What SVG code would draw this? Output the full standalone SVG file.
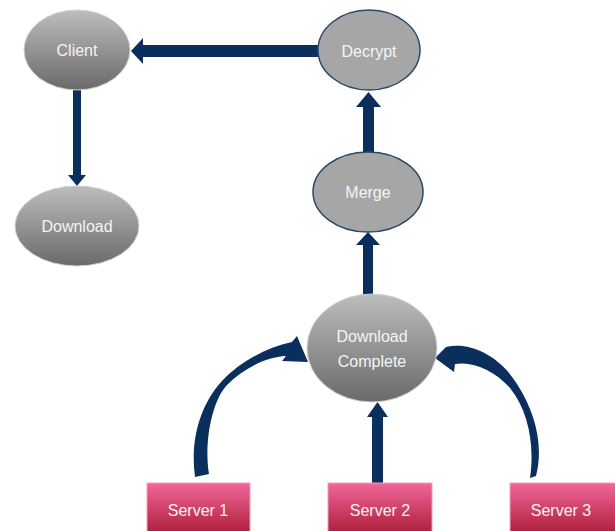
<svg xmlns="http://www.w3.org/2000/svg" width="615" height="531" viewBox="0 0 615 531">
  <defs>
    <linearGradient id="greyGrad" x1="0" y1="0" x2="0" y2="1">
      <stop offset="0" stop-color="#bdbdbd"/>
      <stop offset="1" stop-color="#6a6a6a"/>
    </linearGradient>
    <linearGradient id="pinkGrad" x1="0" y1="0" x2="0" y2="1">
      <stop offset="0" stop-color="#f0679a"/>
      <stop offset="1" stop-color="#ae1f3a"/>
    </linearGradient>
  </defs>
  <style>
    .shaded { fill: url(#greyGrad); stroke: #d0d0d0; stroke-width: 1; }
    .flat { fill: #a6a6a6; stroke: #2c4a66; stroke-width: 1.5; }
    .server { fill: url(#pinkGrad); stroke: #f6a0bf; stroke-width: 1; }
    .label { font-family: "Liberation Sans", Arial, sans-serif; font-size: 16px; fill: #f4f4f4; text-anchor: middle; }
    .arrow { fill: #0a2f5c; stroke: none; }
  </style>

  <rect width="615" height="531" fill="#ffffff"/>

  <!-- connectors -->
  <g id="connectors">
    <!-- Decrypt to Client -->
    <path class="arrow" d="M318 45 L143 45 L143 38 L131 51 L143 64 L143 57 L318 57 Z"/>
    <!-- Client to Download -->
    <path class="arrow" d="M73 90 L73 175 L68 175 L77 186 L86 175 L81 175 L81 90 Z"/>
    <!-- Merge to Decrypt -->
    <path class="arrow" d="M363 152 L363 107 L356 107 L368.5 92 L381 107 L374 107 L374 152 Z"/>
    <!-- Download Complete to Merge -->
    <path class="arrow" d="M363 295 L363 245 L356 245 L368 232 L380 245 L373 245 L373 295 Z"/>
    <!-- Server 2 to Download Complete -->
    <path class="arrow" d="M372 483 L372 417 L367 417 L377.5 402 L388 417 L383 417 L383 483 Z"/>
    <!-- Server 1 to Download Complete (curved, tapered) -->
    <path class="arrow" d="M195 477 C190 440 200 405 222 381 C240 362 265 348 292 342 L297 336 L308 362 L282 361 L286 356 C266 357 244 368 227 385 C211 402 204 445 209 474 Z"/>
    <!-- Server 3 to Download Complete (curved, tapered) -->
    <path class="arrow" d="M530 478 C535 445 528 410 510 388 C494 370 473 361 455 364 L454 372 L435 358 L446 347 C470 341 500 356 517 384 C535 412 544 445 536 476 Z"/>
  </g>

  <g id="node-client">
    <ellipse class="shaded" cx="77" cy="50" rx="53" ry="40"/>
    <text class="label" x="77" y="56">Client</text>
  </g>

  <g id="node-download">
    <ellipse class="shaded" cx="77" cy="226" rx="62" ry="40"/>
    <text class="label" x="77" y="232">Download</text>
  </g>

  <g id="node-decrypt">
    <ellipse class="flat" cx="369" cy="50" rx="51" ry="40"/>
    <text class="label" x="369" y="57">Decrypt</text>
  </g>

  <g id="node-merge">
    <ellipse class="flat" cx="368" cy="192" rx="55" ry="40"/>
    <text class="label" x="368" y="198">Merge</text>
  </g>

  <g id="node-download-complete">
    <ellipse class="shaded" cx="372" cy="348" rx="65" ry="54"/>
    <text class="label" x="372" y="342">Download</text>
    <text class="label" x="372" y="367">Complete</text>
  </g>

  <g id="node-server1">
    <rect class="server" x="147" y="483" width="103" height="50"/>
    <text class="label" x="198" y="516">Server 1</text>
  </g>

  <g id="node-server2">
    <rect class="server" x="328" y="483" width="104" height="50"/>
    <text class="label" x="380" y="516">Server 2</text>
  </g>

  <g id="node-server3">
    <rect class="server" x="510" y="483" width="108" height="50"/>
    <text class="label" x="561" y="516">Server 3</text>
  </g>
</svg>
